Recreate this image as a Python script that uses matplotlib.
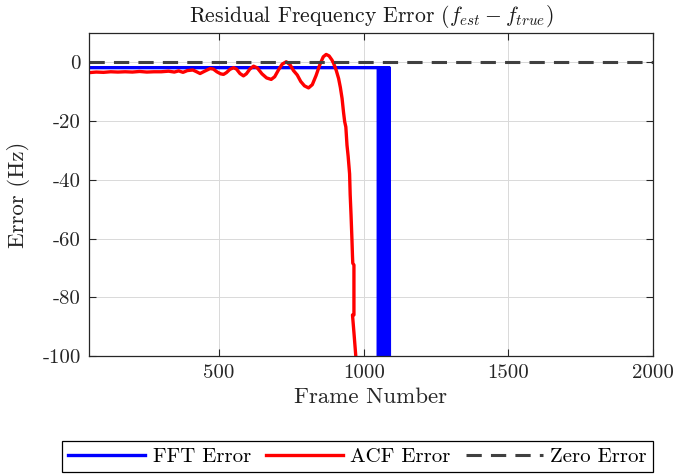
import matplotlib
matplotlib.use("Agg")
import matplotlib.pyplot as plt
from matplotlib.ticker import FixedLocator, FixedFormatter

plt.rcParams['font.family'] = ['cmr10', 'DejaVu Serif']
plt.rcParams['mathtext.fontset'] = 'cm'
plt.rcParams['axes.unicode_minus'] = False

# ---- data ----
fft_frames = [50, 1050,
              1050, 1052, 1054, 1056, 1058, 1060, 1062, 1064, 1066, 1068,
              1070, 1072, 1074, 1076, 1078, 1080, 1082, 1084, 1086, 1088, 1090]
fft_values = [-1.8, -1.8,
              -300, -1.8, -300, -1.8, -300, -1.8, -300, -1.8, -300, -1.8,
              -300, -1.8, -300, -1.8, -300, -1.8, -300, -1.8, -300, -1.8, -300]

acf_frames = [50, 75, 100, 125, 150, 175, 200, 225, 250, 275, 300, 325, 345,
              360, 375, 390, 409, 422, 434, 450, 469, 480, 492, 505, 515, 525,
              537, 550, 560, 572, 584, 594, 606, 619, 632, 648, 664, 680, 692,
              705, 718, 732, 745, 757, 770, 782, 795, 809, 822, 835, 848, 860,
              870, 880, 890, 896, 905, 913, 919, 925, 930, 934, 938, 942, 946,
              948, 951, 953, 956, 959, 961, 962, 966, 966, 961, 966, 970, 974]
acf_values = [-3.5, -3.3, -3.4, -3.2, -3.3, -3.2, -3.3, -3.1, -3.3, -3.2, -3.2,
              -3.0, -3.3, -2.9, -3.4, -2.8, -2.6, -3.2, -3.8, -3.0, -2.1, -2.3,
              -3.2, -3.9, -4.1, -3.5, -2.4, -1.8, -2.3, -3.8, -4.6, -3.9, -2.3,
              -1.3, -1.9, -3.9, -5.3, -5.8, -4.9, -2.6, -0.6, 0.2, -0.8, -2.8,
              -4.3, -6.5, -8.0, -8.7, -7.6, -4.5, -0.8, 1.9, 2.7, 2.2, 0.8, -0.4,
              -2.8, -5.5, -8.5, -12.3, -17.0, -20.2, -22.0, -28.2, -32.0, -34.4,
              -38.0, -45.0, -52.0, -60.0, -66.0, -68.4, -69.0, -86.0, -86.0,
              -92.0, -97.0, -102.0]

zero_frames = [50, 2000]
zero_values = [0, 0]

xticks = [500, 1000, 1500, 2000]
xtick_labels = ['500', '1000', '1500', '2000']
yticks = [-100, -80, -60, -40, -20, 0]
ytick_labels = ['-100', '-80', '-60', '-40', '-20', '0']

series_labels = ['FFT Error', 'ACF Error', 'Zero Error']
title_text = r'Residual Frequency Error ($f_{est}-f_{true}$)'
xlabel_text = 'Frame Number'
ylabel_text = 'Error (Hz)'

# ---- figure ----
fig = plt.figure(figsize=(6.74, 4.75), dpi=100)
ax = fig.add_axes([89/674, 1-356/475, (653-89)/674, (356-33)/475])

l1, = ax.plot(fft_frames, fft_values, color=(0, 0, 1), lw=2.4, label=series_labels[0])
l2, = ax.plot(acf_frames, acf_values, color=(1, 0, 0), lw=2.4, label=series_labels[1])
l3, = ax.plot(zero_frames, zero_values, color=(0.25, 0.25, 0.25), lw=2.2,
              dashes=[5, 3], label=series_labels[2])

ax.set_xlim(50, 2000)
ax.set_ylim(-100, 10)
ax.xaxis.set_major_locator(FixedLocator(xticks))
ax.xaxis.set_major_formatter(FixedFormatter(xtick_labels))
ax.yaxis.set_major_locator(FixedLocator(yticks))
ax.yaxis.set_major_formatter(FixedFormatter(ytick_labels))

ax.grid(True, color=(0.85, 0.85, 0.85), lw=0.7)
ax.set_axisbelow(True)
ax.tick_params(direction='in', length=5, width=0.8, top=True, right=True,
               labelsize=15, colors=(0.15, 0.15, 0.15), pad=6)
for s in ax.spines.values():
    s.set_color((0.15, 0.15, 0.15))
    s.set_linewidth(0.9)

ax.set_title(title_text, fontsize=15.6, pad=8, color=(0.1, 0.1, 0.1))
ax.set_xlabel(xlabel_text, fontsize=16.5, labelpad=4, color=(0.15, 0.15, 0.15))
ax.set_ylabel(ylabel_text, fontsize=16.5, labelpad=9, color=(0.15, 0.15, 0.15))

leg = fig.legend(handles=[l1, l2, l3], loc='center', ncol=3, mode='expand',
                 bbox_to_anchor=(62/674, 1-474/475, (653-62)/674, 35/475),
                 fontsize=15, handlelength=3.7, handletextpad=0.35,
                 borderaxespad=0, fancybox=False, framealpha=1,
                 edgecolor='black', borderpad=0.3, columnspacing=0.8)
leg.get_frame().set_linewidth(0.9)

fig.savefig('out.png', dpi=100)
